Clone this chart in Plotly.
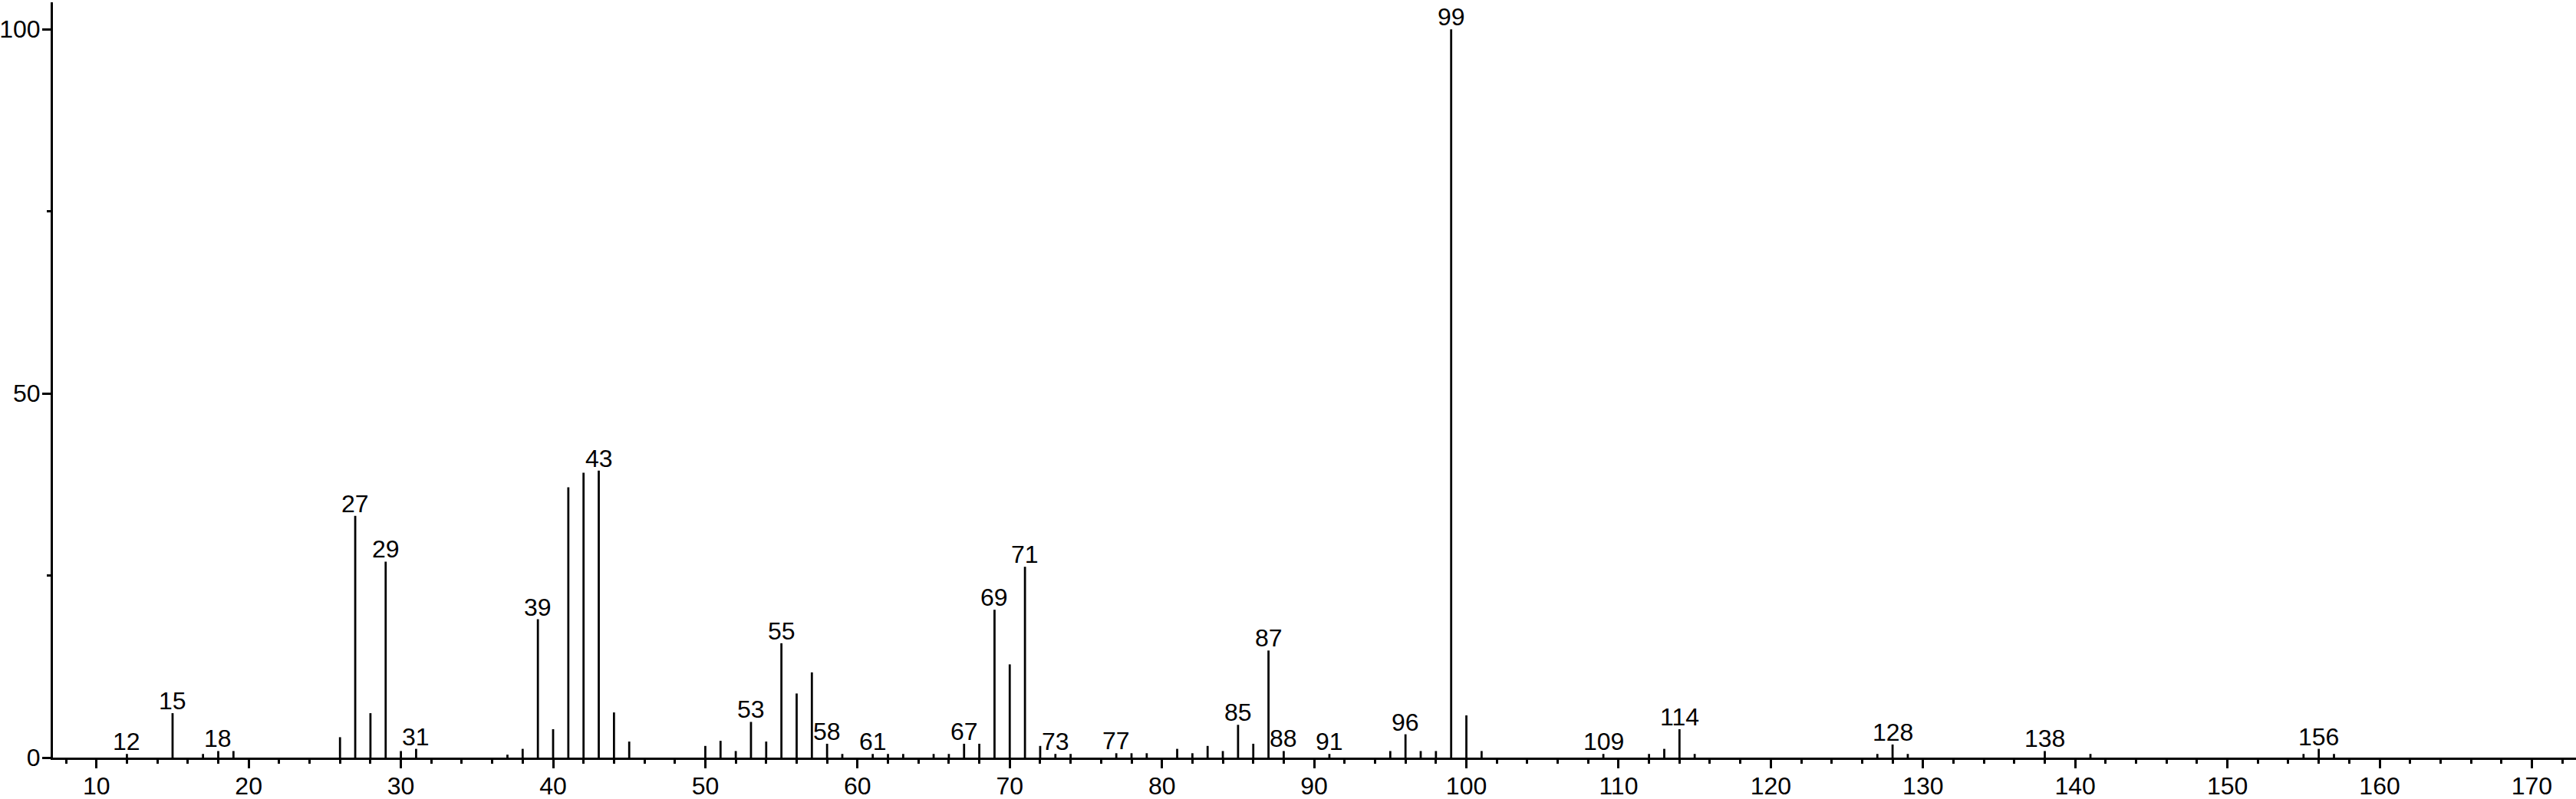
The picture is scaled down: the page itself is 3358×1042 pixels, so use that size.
import plotly.graph_objects as go

# m/z values and relative intensities (%)
mz = [12, 15, 17, 18, 19, 26, 27, 28, 29, 30, 31, 37, 38, 39, 40, 41, 42, 43, 44, 45,
      50, 51, 52, 53, 54, 55, 56, 57, 58, 59, 61, 62, 63, 65, 66, 67, 68, 69, 70, 71,
      72, 73, 74, 77, 78, 79, 81, 82, 83, 84, 85, 86, 87, 88, 91, 95, 96, 97, 98, 99,
      100, 101, 109, 112, 113, 114, 115, 127, 128, 129, 138, 141, 155, 156, 157]
intensity = [0.5, 6.1, 0.5, 0.9, 0.9, 2.8, 33.2, 6.1, 26.9, 0.9, 1.2, 0.4, 1.2, 19.0, 3.9, 37.1, 39.1, 39.4, 6.2, 2.2,
             1.6, 2.3, 0.9, 4.9, 2.2, 15.7, 8.8, 11.7, 1.9, 0.5, 0.5, 0.5, 0.5, 0.5, 0.5, 1.9, 1.9, 20.3, 12.8, 26.2,
             1.6, 0.5, 0.5, 0.6, 0.6, 0.6, 1.2, 0.6, 1.6, 0.9, 4.5, 1.9, 14.7, 0.9, 0.5, 0.9, 3.2, 0.9, 0.9, 100.0,
             5.8, 0.9, 0.5, 0.5, 1.2, 3.9, 0.5, 0.5, 1.8, 0.5, 0.9, 0.5, 0.5, 1.2, 0.5]

# peaks that carry an m/z label
labeled_mz = [12, 15, 18, 27, 29, 31, 39, 43, 53, 55, 58, 61, 67, 69, 71, 73, 77, 85, 87, 88,
              91, 96, 99, 109, 114, 128, 138, 156]

x_ticks = list(range(10, 171, 10))
y_ticks = [0, 50, 100]

X_RANGE = [7.14, 172.9]
Y_RANGE = [0, 103.7]

lookup = dict(zip(mz, intensity))

FONT = "Liberation Sans, Arial, sans-serif"

fig = go.Figure()
fig.add_trace(go.Bar(
    x=mz, y=intensity, width=0.14,
    marker=dict(color="black", line=dict(width=0)),
    hoverinfo="x+y",
))
# invisible helper trace so the tick-mark overlay axes are drawn
fig.add_trace(go.Scatter(
    x=[mz[0]], y=[0], mode="markers", marker=dict(opacity=0, size=1),
    xaxis="x2", yaxis="y2", hoverinfo="skip", showlegend=False,
))

for m in labeled_mz:
    fig.add_annotation(
        x=m, y=lookup[m], xref="x", yref="y",
        text=str(m), showarrow=False,
        xanchor="center", yanchor="bottom", yshift=-4,
        font=dict(family=FONT, size=32, color="black"),
    )

tick_common = dict(tickcolor="black", tickwidth=3)

fig.update_layout(
    width=3358, height=1042,
    margin=dict(l=69, r=0, t=3, b=54),
    paper_bgcolor="white", plot_bgcolor="white",
    showlegend=False,
    font=dict(family=FONT, size=32, color="black"),
    # primary axes: lines and tick labels
    xaxis=dict(
        range=X_RANGE, tickmode="array", tickvals=x_ticks, ticktext=[str(v) for v in x_ticks],
        ticks="", showline=True, linewidth=3, linecolor="black",
        showgrid=False, zeroline=False, automargin=False, ticklabelstandoff=7,
        tickfont=dict(family=FONT, size=32, color="black"),
    ),
    yaxis=dict(
        range=Y_RANGE, tickmode="array", tickvals=y_ticks, ticktext=[str(v) for v in y_ticks],
        ticks="", showline=True, linewidth=3, linecolor="black",
        showgrid=False, zeroline=False, automargin=False, ticklabelstandoff=7,
        tickfont=dict(family=FONT, size=32, color="black"),
    ),
    # overlay axes: tick marks only
    xaxis2=dict(
        range=X_RANGE, overlaying="x", side="bottom", anchor="y2",
        tickmode="array", tickvals=x_ticks, showticklabels=False,
        ticks="outside", ticklen=13, **tick_common,
        minor=dict(dtick=2, tick0=0, ticks="outside", ticklen=7, showgrid=False, **tick_common),
        showline=False, showgrid=False, zeroline=False, automargin=False,
    ),
    yaxis2=dict(
        range=Y_RANGE, overlaying="y", side="left", anchor="x2",
        tickmode="array", tickvals=y_ticks, showticklabels=False,
        ticks="outside", ticklen=13, **tick_common,
        minor=dict(dtick=25, tick0=0, ticks="outside", ticklen=7, showgrid=False, **tick_common),
        showline=False, showgrid=False, zeroline=False, automargin=False,
    ),
)

fig.write_html(
    "out.html",
    config={"displayModeBar": False},
    post_script="document.body.style.margin='0';document.body.style.overflow='hidden';",
)
